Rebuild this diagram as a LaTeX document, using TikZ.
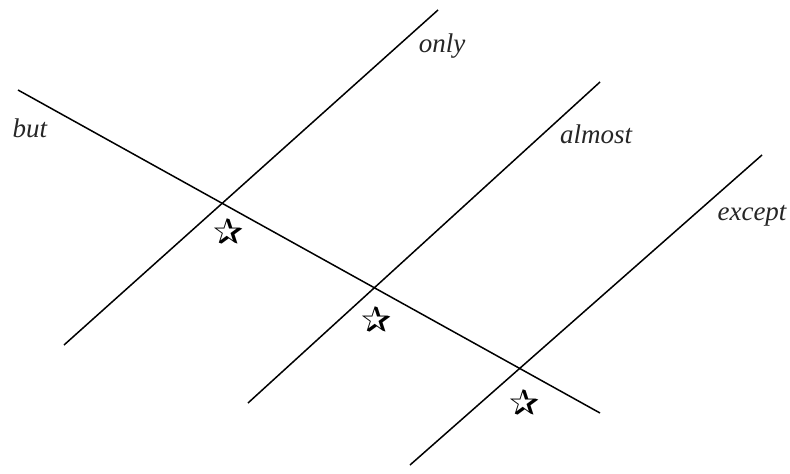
\documentclass[tikz,border=0pt]{standalone}
\usepackage{fontspec}
\setmainfont{Liberation Serif}
\newfontfamily\symfont{DejaVu Sans}
\begin{document}
\begin{tikzpicture}[x=1pt,y=-1pt,
  ln/.style={line width=1.5pt,black},
  lbl/.style={font=\fontsize{27}{30}\selectfont\itshape,text=black!85,inner sep=0pt},
  starmark/.style={font=\fontsize{36}{38}\symfont,inner sep=0pt}]
\useasboundingbox (0,0) rectangle (790,474);
\coordinate (b1) at (18,90);
\coordinate (b2) at (600,413);
\coordinate (o1) at (64,345);
\coordinate (o2) at (438,10);
\coordinate (a1) at (248,403);
\coordinate (a2) at (600,82);
\coordinate (e1) at (410,465);
\coordinate (e2) at (762,155);
\draw[ln] (b1) -- (b2);
\draw[ln] (o1) -- (o2);
\draw[ln] (a1) -- (a2);
\draw[ln] (e1) -- (e2);
\node[lbl] (lbut) at (30,128) {but};
\node[lbl] (lonly) at (442,46) {only};
\node[lbl] (lalmost) at (596,134) {almost};
\node[lbl] (lexcept) at (752,216) {except};
\node[starmark] (s1) at (229,232) {✰};
\node[starmark] (s2) at (377,320) {✰};
\node[starmark] (s3) at (525,403) {✰};
\end{tikzpicture}
\end{document}
